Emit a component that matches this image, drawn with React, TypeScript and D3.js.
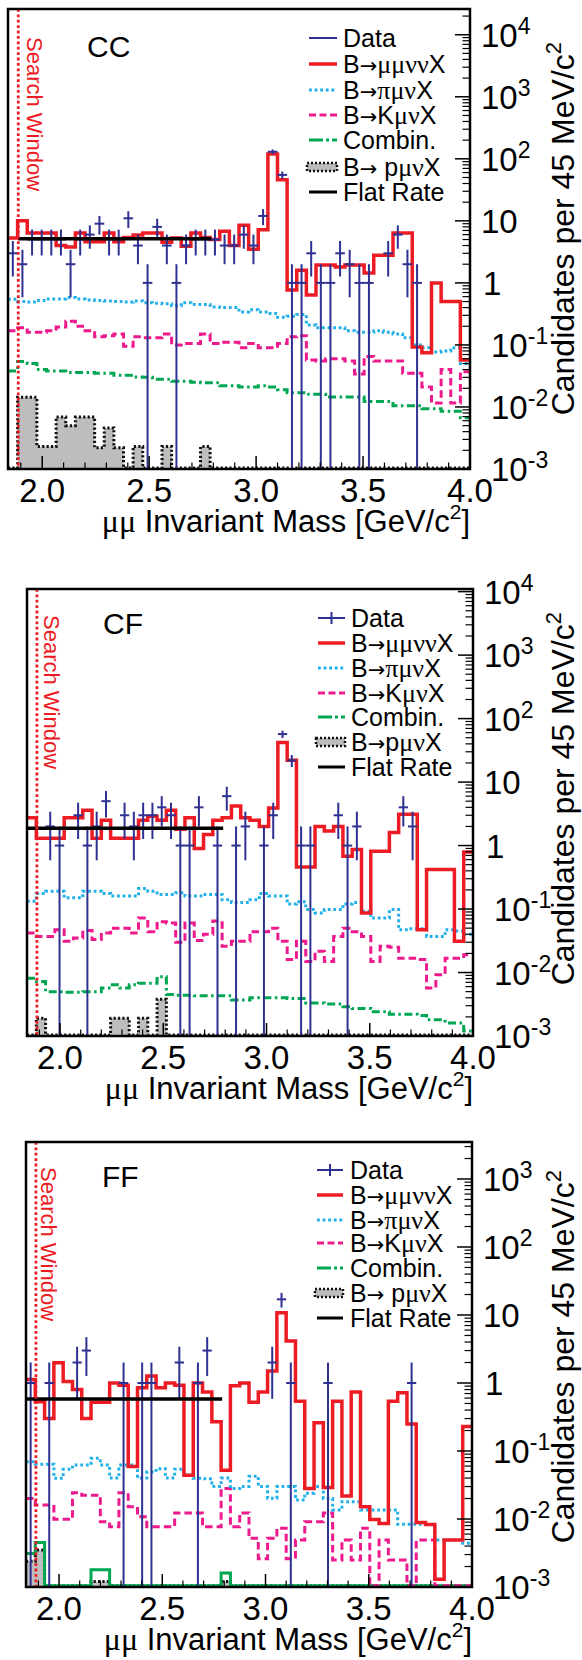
import React from "react";
import * as d3 from "d3";

const X_LO = 1.84;
const X_HI = 4.0;
const BIN = 0.045;
const NBINS = 48;
const SEARCH_EDGE = 1.888;
const FLAT_END = 2.79;

const xMajor = [2.0, 2.5, 3.0, 3.5, 4.0];
const xMajorLabels = ["2.0", "2.5", "3.0", "3.5", "4.0"];
const xMinor = [1.9, 2.1, 2.2, 2.3, 2.4, 2.6, 2.7, 2.8, 2.9, 3.1, 3.2, 3.3, 3.4, 3.6, 3.7, 3.8, 3.9];

// ---------------- CC ----------------
const ccData = [3, 2, 5, 5, 5, 5, 2, 5, 6, 9, 5, 5, 11, 4, 1, 8, 4, 1, 4, 5, 5, 5, 4, 4, 6, 4, 12, 130, 55, 1, 1, 3, 1, 1, 3, 2, 1, 1, 0, 3, 6, 2, 1, 0, 0, 0, 0, 0];
const ccSignal = [5.3, 10, 6.4, 6.4, 6.4, 4.0, 3.8, 6.4, 4.6, 4.6, 6.4, 4.6, 5.4, 5.9, 6.4, 6.4, 4.5, 5.3, 3.9, 6.4, 5.4, 5.0, 6.8, 4.0, 8.5, 3.5, 7.2, 120, 46, 0.77, 1.6, 0.64, 1.95, 1.95, 1.8, 1.95, 1.95, 1.44, 2.8, 2.8, 6.4, 6.4, 0.093, 0.075, 1.0, 0.5, 0.5, 0.057];
const ccPi = [0.546, 0.5, 0.49, 0.52, 0.55, 0.55, 0.58, 0.55, 0.53, 0.52, 0.51, 0.5, 0.49, 0.51, 0.48, 0.47, 0.46, 0.43, 0.48, 0.45, 0.45, 0.41, 0.4, 0.4, 0.34, 0.37, 0.34, 0.32, 0.28, 0.29, 0.31, 0.21, 0.19, 0.19, 0.19, 0.17, 0.16, 0.16, 0.17, 0.16, 0.15, 0.13, 0.1, 0.09, 0.077, 0.08, 0.09, 0.05];
const ccK = [0.17, 0.19, 0.16, 0.16, 0.17, 0.195, 0.24, 0.2, 0.17, 0.135, 0.14, 0.15, 0.095, 0.135, 0.13, 0.13, 0.15, 0.1, 0.105, 0.105, 0.15, 0.105, 0.11, 0.11, 0.09, 0.105, 0.09, 0.09, 0.105, 0.135, 0.14, 0.057, 0.055, 0.06, 0.06, 0.055, 0.034, 0.065, 0.055, 0.055, 0.055, 0.035, 0.035, 0.021, 0.0116, 0.04, 0.0116, 0.037];
const ccComb = [0.038, 0.054, 0.05, 0.04, 0.038, 0.038, 0.036, 0.036, 0.036, 0.035, 0.035, 0.0325, 0.0325, 0.0305, 0.03, 0.028, 0.028, 0.026, 0.026, 0.025, 0.0246, 0.0246, 0.022, 0.022, 0.021, 0.021, 0.022, 0.021, 0.019, 0.017, 0.017, 0.016, 0.016, 0.0145, 0.0145, 0.0145, 0.0145, 0.0122, 0.0122, 0.0122, 0.0105, 0.0105, 0.0105, 0.0094, 0.0094, 0.0085, 0.0085, 0.0067];
const ccP = [0, 0.0143, 0.0143, 0.0023, 0.0023, 0.0069, 0.005, 0.0069, 0.0069, 0.0022, 0.0046, 0.0022, 0, 0.0023, 0, 0, 0.0023, 0, 0, 0, 0.0023, 0, 0, 0, 0, 0, 0, 0, 0, 0, 0, 0, 0, 0, 0, 0, 0, 0, 0, 0, 0, 0, 0, 0, 0, 0, 0, 0];
const ccFlat = 5.13;

// ---------------- CF ----------------
const cfData = [0, 0, 2, 1, 0, 3, 1, 2, 5, 0, 3, 2, 3, 3, 4, 3, 1, 1, 4, 0, 1, 6, 1, 2, 0, 1, 3, 57, 22, 1, 1, 0, 0, 3, 1, 2, 0, 0, 0, 0, 4, 2, 0, 0, 0, 0, 0, 0];
const cfSignal = [2.75, 1.3, 1.3, 1.3, 2.75, 2.75, 3.6, 1.3, 2.5, 1.3, 1.3, 1.3, 2.5, 2.9, 2.5, 3.6, 1.8, 2.75, 0.9, 1.5, 2.5, 2.75, 4.2, 2.75, 2.5, 2.0, 3.9, 42, 22, 0.46, 0.46, 2.0, 1.7, 2.0, 0.68, 0.87, 0.087, 0.81, 0.81, 1.6, 3.1, 3.1, 0.047, 0.42, 0.42, 0.42, 0.031, 0.79];
const cfPi = [0.133, 0.175, 0.19, 0.19, 0.15, 0.15, 0.19, 0.19, 0.175, 0.16, 0.16, 0.16, 0.21, 0.19, 0.17, 0.17, 0.18, 0.16, 0.16, 0.17, 0.17, 0.14, 0.127, 0.127, 0.14, 0.175, 0.16, 0.16, 0.12, 0.13, 0.098, 0.087, 0.098, 0.098, 0.12, 0.127, 0.092, 0.072, 0.072, 0.098, 0.047, 0.049, 0.049, 0.037, 0.037, 0.047, 0.045, 0.04];
const cfK = [0.042, 0.037, 0.037, 0.047, 0.031, 0.035, 0.046, 0.033, 0.042, 0.05, 0.05, 0.042, 0.072, 0.044, 0.063, 0.06, 0.03, 0.06, 0.032, 0.04, 0.065, 0.026, 0.031, 0.031, 0.044, 0.044, 0.05, 0.031, 0.016, 0.031, 0.0149, 0.0216, 0.0149, 0.037, 0.05, 0.044, 0.037, 0.0149, 0.026, 0.025, 0.0168, 0.0168, 0.016, 0.0057, 0.0092, 0.0168, 0.0168, 0.019];
const cfComb = [0.0081, 0.0072, 0.005, 0.005, 0.0049, 0.0049, 0.005, 0.005, 0.0057, 0.0064, 0.0057, 0.0064, 0.0068, 0.0068, 0.0086, 0.0045, 0.0044, 0.0044, 0.0043, 0.0043, 0.0043, 0.0043, 0.0037, 0.0037, 0.004, 0.004, 0.004, 0.004, 0.0039, 0.0039, 0.0033, 0.0033, 0.0032, 0.0032, 0.0029, 0.0027, 0.0027, 0.0024, 0.0024, 0.0022, 0.0022, 0.0022, 0.0021, 0.0018, 0.0018, 0.0016, 0.0016, 0.0012];
const cfP = [0, 0.0019, 0, 0, 0, 0, 0, 0, 0, 0.0019, 0.0019, 0, 0.0019, 0, 0.0038, 0, 0, 0, 0, 0, 0, 0, 0, 0, 0, 0, 0, 0, 0, 0, 0, 0, 0, 0, 0, 0, 0, 0, 0, 0, 0, 0, 0, 0, 0, 0, 0, 0];
const cfFlat = 1.87;

// ---------------- FF ----------------
const ffData = [1, 0, 1, 0, 0, 2, 3, 0, 0, 0, 1, 0, 1, 1, 0, 0, 2, 0, 1, 3, 0, 0, 0, 0, 0, 0, 2, 17, 1, 0, 0, 0, 1, 0, 0, 0, 0, 0, 0, 0, 0, 1, 0, 0, 0, 0, 0, 0];
const ffSignal = [1.13, 0.53, 0.3, 1.99, 1.05, 0.8, 0.3, 0.52, 0.52, 1.0, 0.93, 0.059, 0.85, 1.27, 0.85, 1.0, 0.93, 0.044, 1.0, 0.74, 0.27, 0.052, 0.91, 1.0, 0.52, 0.74, 1.5, 10.8, 4.15, 0.54, 0.028, 0.26, 0.029, 0.54, 0.0218, 0.74, 0.0152, 0.0098, 0.0086, 0.54, 0.72, 0.25, 0.0089, 0.0083, 0.0013, 0.0049, 0.0049, 0.23];
const ffPi = [0.0695, 0.064, 0.064, 0.0397, 0.054, 0.062, 0.062, 0.078, 0.062, 0.04, 0.062, 0.062, 0.04, 0.049, 0.055, 0.04, 0.054, 0.044, 0.0397, 0.039, 0.03, 0.04, 0.028, 0.03, 0.0427, 0.03, 0.0202, 0.03, 0.03, 0.019, 0.024, 0.03, 0.02, 0.0136, 0.018, 0.018, 0.0136, 0.0136, 0.0136, 0.0136, 0.0084, 0.0084, 0.0084, 0.0083, 0.0049, 0.0049, 0.0049, 0.0044];
const ffK = [0.0201, 0.0161, 0.0161, 0.0099, 0.0099, 0.0244, 0.0224, 0.0224, 0.0091, 0.0077, 0.0244, 0.0152, 0.0108, 0.0077, 0.0077, 0.0077, 0.0123, 0.0123, 0.0123, 0.0077, 0.0077, 0.028, 0.0077, 0.0123, 0.0052, 0.0026, 0.0052, 0.0073, 0.0026, 0.0049, 0.0091, 0.0091, 0.0123, 0.0025, 0.0049, 0.0025, 0.0073, 0, 0.0049, 0.0025, 0.0025, 0, 0.0049, 0.0049, 0, 0, 0, 0];
const ffComb = [0.0031, 0.0045, 0, 0, 0, 0, 0, 0.0018, 0.0018, 0, 0, 0, 0, 0, 0, 0, 0, 0, 0, 0, 0, 0.0016, 0, 0, 0, 0, 0, 0, 0, 0, 0, 0, 0, 0, 0, 0, 0, 0, 0, 0, 0, 0, 0, 0, 0, 0, 0, 0];
const ffP = [0.0024, 0.0035, 0, 0, 0, 0, 0, 0.0012, 0.0012, 0, 0, 0, 0, 0, 0, 0, 0, 0, 0, 0, 0, 0.0012, 0, 0, 0, 0, 0, 0, 0, 0, 0, 0, 0, 0, 0, 0, 0, 0, 0, 0, 0, 0, 0, 0, 0, 0, 0, 0];
const ffFlat = 0.58;

const legendLabels = ["Data", "B→μμννX", "B→πμνX", "B→KμνX", "Combin.", "B→pμνX", "Flat Rate"];

const FONT = "'Liberation Sans', Arial, Helvetica, sans-serif";
const GREEK = "'Liberation Serif', 'DejaVu Serif', serif";
const ARROW = "'DejaVu Sans', sans-serif";
const C_DATA = "#2e3192";
const C_SIG = "#ed1c24";
const C_PI = "#1fb0ea";
const C_K = "#ec1a8c";
const C_COMB = "#00a651";
const C_P = "#bdbdbd";

type Cfg = {
  name: string;
  left: number; right: number; top: number; bottom: number; yMax: number;
  labelX: number; labelY: number;
  swX: number; swY: number;
  yTitleEnd: number;
  leg: { tx: number; s0: number; s1: number; rows: number[] };
  dataCross: boolean;
  pSpace: boolean;
  flatStart: number; flat: number;
  combSolid: boolean;
  data: number[]; sig: number[]; pi: number[]; k: number[]; comb: number[]; p: number[];
};

const panels: Cfg[] = [
  {
    name: "CC", left: 8, right: 470, top: 9, bottom: 469, yMax: 26000,
    labelX: 87, labelY: 57, swX: 26.5, swY: 37, yTitleEnd: 42,
    leg: { tx: 343, s0: 309, s1: 337, rows: [38, 64, 90, 115, 140, 167, 192] },
    dataCross: false, pSpace: true, flatStart: SEARCH_EDGE, flat: ccFlat, combSolid: false,
    data: ccData, sig: ccSignal, pi: ccPi, k: ccK, comb: ccComb, p: ccP,
  },
  {
    name: "CF", left: 27, right: 473, top: 589, bottom: 1036, yMax: 11000,
    labelX: 103, labelY: 634, swX: 43.5, swY: 615, yTitleEnd: 612,
    leg: { tx: 351, s0: 318, s1: 345, rows: [618, 643, 668, 693, 717, 742, 767] },
    dataCross: true, pSpace: false, flatStart: X_LO, flat: cfFlat, combSolid: false,
    data: cfData, sig: cfSignal, pi: cfPi, k: cfK, comb: cfComb, p: cfP,
  },
  {
    name: "FF", left: 26, right: 472, top: 1142, bottom: 1587, yMax: 3500,
    labelX: 102, labelY: 1187, swX: 41, swY: 1167, yTitleEnd: 1170,
    leg: { tx: 350, s0: 317, s1: 343, rows: [1170, 1195, 1220, 1243, 1268, 1293, 1318] },
    dataCross: true, pSpace: true, flatStart: X_LO, flat: ffFlat, combSolid: true,
    data: ffData, sig: ffSignal, pi: ffPi, k: ffK, comb: ffComb, p: ffP,
  },
];

function LegendText({ label, pSpace }: { label: string; pSpace: boolean }) {
  let text = label;
  if (label === "B→pμνX" && pSpace) text = "B→ pμνX";
  const kind = (ch: string) => (/[μνπ]/.test(ch) ? "g" : ch === "→" ? "a" : "s");
  const parts: { t: string; k: string }[] = [];
  for (const ch of text) {
    const k = kind(ch);
    const last = parts[parts.length - 1];
    if (last && last.k === k) last.t += ch;
    else parts.push({ t: ch, k });
  }
  return (
    <>
      {parts.map((p, i) => (
        <tspan
          key={i}
          fontFamily={p.k === "g" ? GREEK : p.k === "a" ? ARROW : FONT}
          fontSize={p.k === "g" ? 26 : p.k === "a" ? 21 : 25}
        >
          {p.t}
        </tspan>
      ))}
    </>
  );
}

function Panel({ cfg }: { cfg: Cfg }) {
  const { left, right, top, bottom, yMax } = cfg;
  const x = d3.scaleLinear().domain([X_LO, X_HI]).range([left, right]);
  const y = d3.scaleLog().domain([1e-3, yMax]).range([bottom, top]);
  const floorV = 1.04e-3;
  const cl = (v: number) => Math.max(v, floorV);
  const edges = d3.range(NBINS + 1).map((i) => X_LO + i * BIN);
  const stepPts = (vals: number[]): [number, number][] => [
    ...vals.map((v, i) => [edges[i], cl(v)] as [number, number]),
    [edges[NBINS], cl(vals[NBINS - 1])],
  ];
  const line = d3
    .line<[number, number]>()
    .x((d) => x(d[0]))
    .y((d) => y(d[1]))
    .curve(d3.curveStepAfter);
  const area = d3
    .area<[number, number]>()
    .x((d) => x(d[0]))
    .y0(bottom)
    .y1((d) => y(d[1]))
    .curve(d3.curveStepAfter);
  const clipId = `clip-${cfg.name}`;

  const decades: number[] = [];
  for (let k = -3; k <= 5; k++) if (10 ** k <= yMax * 1.0001) decades.push(k);
  const minors: number[] = [];
  for (let k = -3; k <= 5; k++)
    for (let m = 2; m <= 9; m++) if (m * 10 ** k < yMax) minors.push(m * 10 ** k);

  const lg = cfg.leg;
  const mid = (lg.s0 + lg.s1) / 2;

  return (
    <g>
      <defs>
        <clipPath id={clipId}>
          <rect x={left} y={top} width={right - left} height={bottom - top} />
        </clipPath>
      </defs>
      <g clipPath={`url(#${clipId})`}>
        <path d={area(stepPts(cfg.p)) || ""} fill={C_P} stroke="none" />
        <path d={line(stepPts(cfg.p)) || ""} fill="none" stroke="#111" strokeWidth={3} strokeDasharray="2.2,2.2" />
        <path
          d={line(stepPts(cfg.comb)) || ""}
          fill="none"
          stroke={C_COMB}
          strokeWidth={3}
          strokeDasharray={cfg.combSolid ? undefined : "8,3.5,2.5,3.5"}
        />
        <path d={line(stepPts(cfg.k)) || ""} fill="none" stroke={C_K} strokeWidth={3} strokeDasharray="7.5,4" />
        <path d={line(stepPts(cfg.pi)) || ""} fill="none" stroke={C_PI} strokeWidth={3} strokeDasharray="2.8,2.8" />
        <path d={line(stepPts(cfg.sig)) || ""} fill="none" stroke={C_SIG} strokeWidth={3.5} />
        {cfg.data.map((n, i) => {
          if (n <= 0) return null;
          const cx = x(edges[i] + BIN / 2);
          const e = Math.sqrt(n);
          const yc = y(n);
          const yHi = y(n + e);
          const yLo = n - e > 1e-3 ? y(n - e) : bottom;
          return (
            <g key={i} stroke={C_DATA} strokeWidth={2}>
              <line x1={x(edges[i])} x2={x(edges[i + 1])} y1={yc} y2={yc} />
              <line x1={cx} x2={cx} y1={yHi} y2={yLo} />
            </g>
          );
        })}
        <line x1={x(cfg.flatStart)} x2={x(FLAT_END)} y1={y(cfg.flat)} y2={y(cfg.flat)} stroke="#000" strokeWidth={3.5} />
        <line
          x1={x(SEARCH_EDGE)}
          x2={x(SEARCH_EDGE)}
          y1={top}
          y2={bottom}
          stroke={C_SIG}
          strokeWidth={2.8}
          strokeDasharray="2.8,2.6"
        />
      </g>

      {/* frame */}
      <rect x={left} y={top} width={right - left} height={bottom - top} fill="none" stroke="#000" strokeWidth={2.5} />

      {/* x ticks */}
      {xMajor.map((t) => (
        <line key={"M" + t} x1={x(t)} x2={x(t)} y1={bottom} y2={bottom - 13} stroke="#000" strokeWidth={1.5} />
      ))}
      {xMinor.map((t) => (
        <line key={"m" + t} x1={x(t)} x2={x(t)} y1={bottom} y2={bottom - 6.5} stroke="#000" strokeWidth={1.2} />
      ))}
      {xMajor.map((t, i) => (
        <text key={"L" + t} x={x(t)} y={bottom + 33} fontSize={33} fontFamily={FONT} textAnchor="middle">
          {xMajorLabels[i]}
        </text>
      ))}
      <text x={right} y={bottom + 63} fontSize={31} fontFamily={FONT} textAnchor="end">
        <tspan fontFamily={GREEK} fontSize={32}>μμ</tspan>
        {" Invariant Mass [GeV/c"}
        <tspan fontSize={21} dy={-13}>2</tspan>
        <tspan dy={13}>]</tspan>
      </text>

      {/* y ticks on right */}
      {decades.map((k) => (
        <line key={"yM" + k} x1={right} x2={right - 15} y1={y(10 ** k)} y2={y(10 ** k)} stroke="#000" strokeWidth={1.5} />
      ))}
      {minors.map((v) => (
        <line key={"ym" + v} x1={right} x2={right - 7.5} y1={y(v)} y2={y(v)} stroke="#000" strokeWidth={1.2} />
      ))}
      {decades.map((k) => {
        const lx = k >= 1 ? right + 11 : k === 0 ? right + 13 : right + 21;
        return (
          <text key={"yl" + k} x={lx} y={y(10 ** k) + 12} fontSize={33} fontFamily={FONT}>
            {k === 0 ? "1" : "10"}
            {k !== 0 && k !== 1 ? (
              <tspan fontSize={23} dy={-13}>
                {k < 0 ? "-" + Math.abs(k) : String(k)}
              </tspan>
            ) : null}
          </text>
        );
      })}
      <text transform={`translate(574,${cfg.yTitleEnd}) rotate(-90)`} fontSize={32} fontFamily={FONT} textAnchor="end">
        Candidates per 45 MeV/c
        <tspan fontSize={22} dy={-13}>2</tspan>
      </text>

      {/* panel label + search window text */}
      <text x={cfg.labelX} y={cfg.labelY} fontSize={30} fontFamily={FONT}>
        {cfg.name}
      </text>
      <text transform={`translate(${cfg.swX},${cfg.swY}) rotate(90)`} fontSize={22} fontFamily={FONT} fill={C_SIG}>
        Search Window
      </text>

      {/* legend */}
      <g>
        <line x1={lg.s0} x2={lg.s1} y1={lg.rows[0]} y2={lg.rows[0]} stroke={C_DATA} strokeWidth={2} />
        {cfg.dataCross ? (
          <line x1={mid} x2={mid} y1={lg.rows[0] - 6} y2={lg.rows[0] + 6} stroke={C_DATA} strokeWidth={2} />
        ) : null}
        <line x1={lg.s0} x2={lg.s1} y1={lg.rows[1]} y2={lg.rows[1]} stroke={C_SIG} strokeWidth={3.5} />
        <line x1={lg.s0} x2={lg.s1} y1={lg.rows[2]} y2={lg.rows[2]} stroke={C_PI} strokeWidth={3} strokeDasharray="2.8,2.8" />
        <line x1={lg.s0} x2={lg.s1} y1={lg.rows[3]} y2={lg.rows[3]} stroke={C_K} strokeWidth={3} strokeDasharray="7,3.5" />
        <line x1={lg.s0} x2={lg.s1} y1={lg.rows[4]} y2={lg.rows[4]} stroke={C_COMB} strokeWidth={3} strokeDasharray="14,3,3,3" />
        <rect
          x={lg.s0 - 2}
          y={lg.rows[5] - 4}
          width={lg.s1 - lg.s0 + 2}
          height={8}
          fill={C_P}
          stroke="#111"
          strokeWidth={2.5}
          strokeDasharray="2,2"
        />
        <line x1={lg.s0} x2={lg.s1} y1={lg.rows[6]} y2={lg.rows[6]} stroke="#000" strokeWidth={3} />
        {legendLabels.map((lab, i) => (
          <text key={lab} x={lg.tx} y={lg.rows[i] + 9} fontSize={25} fontFamily={FONT}>
            <LegendText label={lab} pSpace={cfg.pSpace} />
          </text>
        ))}
      </g>
    </g>
  );
}

export default function App() {
  return (
    <svg
      width={582}
      height={1660}
      viewBox="0 0 582 1660"
      style={{ position: "absolute", left: 0, top: 0, display: "block", background: "#fff" }}
    >
      <rect x={0} y={0} width={582} height={1660} fill="#fff" />
      {panels.map((p) => (
        <Panel key={p.name} cfg={p} />
      ))}
    </svg>
  );
}
